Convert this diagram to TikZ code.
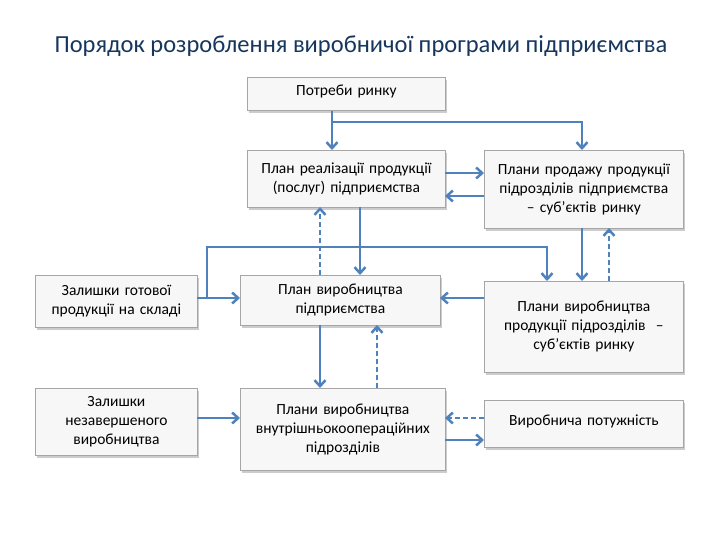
\documentclass[tikz,border=0pt]{standalone}
\usepackage{fontspec}
\setmainfont{Carlito}
\usetikzlibrary{arrows.meta,shadows}
\definecolor{arr}{RGB}{79,129,189}
\definecolor{ttl}{RGB}{23,54,93}
\begin{document}
\begin{tikzpicture}[x=1pt,y=-1pt,
 bx/.style={draw=gray!70,line width=0.8pt,fill=gray!6,align=center,font=\fontsize{15.5}{19}\selectfont,
   drop shadow={shadow xshift=2pt,shadow yshift=-3pt,fill=gray!80},anchor=north west,inner sep=2pt},
 ar/.style={draw=arr,line width=2.5pt,-{Straight Barb[length=6pt,width=11pt]}},
 da/.style={ar,dash pattern=on 5pt off 3pt}]
\useasboundingbox (0,0) rectangle (720,540);
\node[font=\fontsize{24.5}{28}\selectfont,text=ttl] (t) at (361,46) {Порядок розроблення виробничої програми підприємства};
\node[bx,minimum width=198pt,minimum height=33pt,text width=194pt] (a) at (247,77) {\raisebox{8pt}{Потреби ринку}};
\node[bx,minimum width=198pt,minimum height=57pt,text width=194pt] (b) at (247,150) {\raisebox{6pt}{\parbox{194pt}{\centering План реалізації продукції\\(послуг) підприємства}}};
\node[bx,minimum width=199pt,minimum height=78pt,text width=195pt] (c) at (484,150) {\raisebox{4pt}{\parbox{195pt}{\centering Плани продажу продукції\\підрозділів підприємства\\– суб’єктів ринку}}};
\node[bx,minimum width=200pt,minimum height=50pt,text width=196pt] (d) at (240,275) {План виробництва\\підприємства};
\node[bx,minimum width=199pt,minimum height=91pt,text width=195pt] (e) at (484,281) {\raisebox{8pt}{\parbox{195pt}{\centering Плани виробництва\\продукції підрозділів \ –\\суб’єктів ринку}}};
\node[bx,minimum width=205pt,minimum height=82pt,text width=201pt] (f) at (240,388) {\raisebox{8pt}{\parbox{201pt}{\centering Плани виробництва\\внутрішньокоопераційних\\підрозділів}}};
\node[bx,minimum width=199pt,minimum height=47pt,text width=195pt] (g) at (484,400) {\raisebox{8pt}{Виробнича потужність}};
\node[bx,minimum width=162pt,minimum height=52pt,text width=158pt] (h) at (35,275) {Залишки готової\\продукції на складі};
\node[bx,minimum width=162pt,minimum height=67pt,text width=158pt] (i) at (35,388) {Залишки\\незавершеного\\виробництва};
\coordinate (j1) at (332,122);
\draw[draw=arr,line width=2.5pt] (a.south -| j1) -- (j1);
\draw[ar] (j1) -- (j1 |- b.north);
\draw[ar] (j1) -| (582,150);
\draw[ar] (445,173) -- (484,173);
\draw[ar] (484,196) -- (445,196);
\draw[da] (320,275) -- (320,207);
\draw[ar] (360,207) -- (360,275);
\draw[ar] (582,228) -- (582,281);
\draw[da] (609,281) -- (609,228);
\coordinate (k) at (207,298);
\draw[draw=arr,line width=2.5pt] (197,298) -- (k);
\draw[ar] (k) -- (240,298);
\draw[ar] (k) |- (547,247) -- (547,281);
\draw[ar] (484,298) -- (440,298);
\draw[ar] (320,325) -- (320,388);
\draw[da] (377,388) -- (377,325);
\draw[da] (484,418) -- (445,418);
\draw[ar] (445,440) -- (484,440);
\draw[ar] (197,418) -- (240,418);
\end{tikzpicture}
\end{document}
